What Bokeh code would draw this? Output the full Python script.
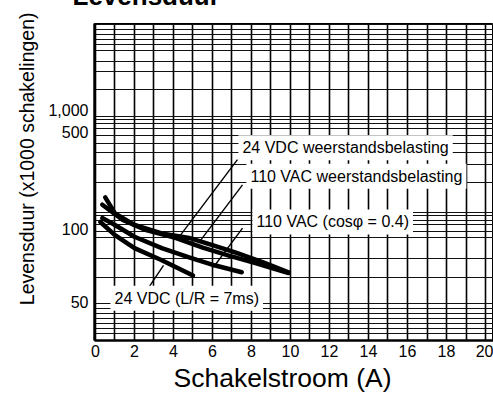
import math
from bokeh.plotting import figure
from bokeh.models import Range1d, FixedTicker, Label, Title
from bokeh.embed import file_html
from bokeh.resources import INLINE

FONT = "Liberation Sans"

# ---- data ----
vdc24_res_x = [0.5, 1.0, 2.0, 3.4, 4.8, 6.0, 7.2, 8.6, 9.9]
vdc24_res_y = [135, 116, 104, 96, 92, 86, 80, 73, 66.5]
vac110_res_x = [0.35, 1.4, 2.6, 4.1, 5.5, 6.8, 8.2, 9.9]
vac110_res_y = [126, 109, 99, 92, 84, 78, 72.5, 66]
vac110_cos_x = [0.35, 1.0, 2.0, 3.4, 4.8, 6.1, 7.5]
vac110_cos_y = [111, 104, 93, 83.5, 76.5, 71, 66.5]
vdc24_lr_x = [0.25, 1.0, 2.0, 3.4, 5.0]
vdc24_lr_y = [107, 94.5, 83.5, 74.5, 64.5]

label_text = ["24 VDC weerstandsbelasting", "110 VAC weerstandsbelasting",
              "110 VAC (cosφ = 0.4)", "24 VDC (L/R = 7ms)"]
label_x = [7.33, 7.74, 8.05, 0.77]
label_y = [216, 165, 107, 52]
lead_x0 = [7.28, 7.54, 7.54, 2.46]
lead_y0 = [193, 152, 101, 53.4]
lead_x1 = [4.36, 5.28, 6.05, 3.49]
lead_y1 = [94.5, 87.6, 69.7, 71]

x_ticks = list(range(0, 21, 2))
x_grid = list(range(0, 21))
y_tick_values = [50, 100, 251, 310]
y_tick_labels = ["50", "100", "500", "1,000"]
grid_y_values = [694, 662, 631, 602, 574, 542, 488, 444, 374, 290, 282, 271, 258,
                 242, 224, 206, 184, 155, 117.5, 114, 109, 104, 98, 92, 76, 63.4,
                 49.5, 47.2, 45, 43, 41, 39.1, 37.3]

p = figure(width=493, height=437, x_range=Range1d(-0.05, 20.41),
           y_range=Range1d(34.85, 700), y_axis_type="log",
           title="Levensduur",
           output_backend="svg", toolbar_location=None,
           min_border_left=94, min_border_right=0, min_border_top=20,
           min_border_bottom=62)
p.styles = {"margin-top": "-35px"}
p.outline_line_color = "black"
p.outline_line_width = 1
p.background_fill_color = "white"
p.border_fill_color = "white"

# heading (mostly cut off at the top of the page, as in the reference)
p.title.text_font = FONT
p.title.text_font_size = "26px"
p.title.text_font_style = "bold"
p.title.text_color = "black"
p.title.align = "left"
p.title.offset = -22
p.title.standoff = 26

# grid
p.xgrid.ticker = FixedTicker(ticks=x_grid)
p.xgrid.grid_line_color = "black"
p.xgrid.grid_line_width = 1.6
p.ygrid.ticker = FixedTicker(ticks=grid_y_values)
p.ygrid.grid_line_color = "#111111"
p.ygrid.grid_line_width = 1.0

# axes
for ax in (p.xaxis[0], p.yaxis[0]):
    ax.axis_line_width = 2.5
    ax.axis_line_color = "black"
    ax.major_tick_line_color = None
    ax.minor_tick_line_color = None
    ax.major_tick_out = 0
    ax.major_tick_in = 0
    ax.major_label_text_font = FONT
    ax.major_label_text_font_size = "16px"
    ax.major_label_text_color = "black"

p.xaxis.ticker = FixedTicker(ticks=x_ticks)
p.xaxis.major_label_standoff = 4

p.yaxis.ticker = FixedTicker(ticks=y_tick_values)
p.yaxis.major_label_overrides = {v: t for v, t in zip(y_tick_values, y_tick_labels)}
p.yaxis.major_label_standoff = 6

# axis titles as side titles so they can be shifted along the axes
ytitle = Title(text="Levensduur (x1000 schakelingen)", align="right", offset=-11,
               standoff=16, text_font=FONT, text_font_size="19.5px",
               text_font_style="normal", text_color="black")
p.add_layout(ytitle, "left")
xtitle = Title(text="Schakelstroom (A)", align="left", offset=79,
               standoff=3, text_font=FONT, text_font_size="26.5px",
               text_font_style="normal", text_color="black")
p.add_layout(xtitle, "below")

# curves
for xs, ys in [(vdc24_res_x, vdc24_res_y), (vac110_res_x, vac110_res_y),
               (vac110_cos_x, vac110_cos_y), (vdc24_lr_x, vdc24_lr_y)]:
    p.line(xs, ys, line_color="black", line_width=4.5, line_cap="round", line_join="round")

# leader lines
p.segment(x0=lead_x0, y0=lead_y0, x1=lead_x1, y1=lead_y1, line_color="black", line_width=1.4)

# labels
for t, x, y in zip(label_text, label_x, label_y):
    p.add_layout(Label(x=x, y=y, text=t, text_font=FONT, text_font_size="16px",
                       text_color="black", text_baseline="middle", text_align="left",
                       background_fill_color="white", padding=4))

open("out.html", "w").write(file_html(p, INLINE))
